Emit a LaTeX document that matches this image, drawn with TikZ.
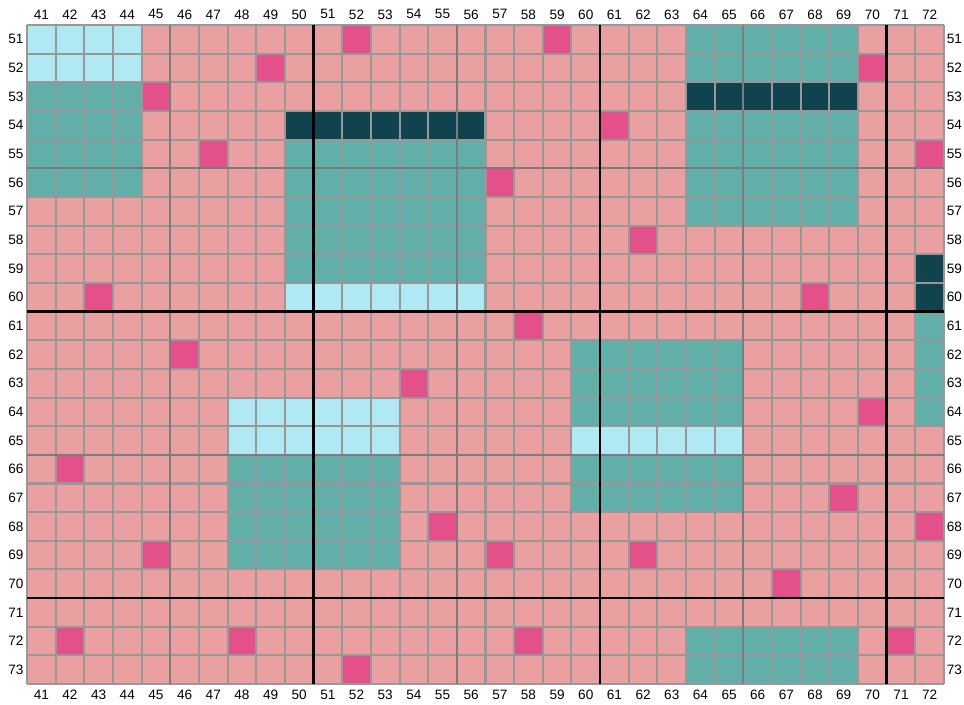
\documentclass[tikz,border=0pt]{standalone}
\usepackage{fontspec}
\setmainfont{Liberation Sans}
\usepackage{xcolor}
\definecolor{CellPink}   {RGB}{234, 160, 160}
\definecolor{CellSky}    {RGB}{176, 232, 244}
\definecolor{CellTeal}   {RGB}{ 98, 174, 168}
\definecolor{CellDeep}   {RGB}{ 16,  67,  78}
\definecolor{CellMagenta}{RGB}{227,  80, 138}
\definecolor{GridGray}   {RGB}{152, 152, 152}
\definecolor{MidGray}    {RGB}{124, 124, 124}
\usepackage{tikz}

% block of cells: first col, last col, first row, last row, colour
\newcommand{\cellblock}[5]{%
  \fill[#5] (#1-41,51-#3) rectangle (#2-40,50-#4);}

\begin{document}
\begin{tikzpicture}[
  axislabel/.style={
    font=\fontsize{13.5}{15}\selectfont,
    inner sep=0pt, text=black},
  gridline/.style={
    draw=GridGray, line width=2pt},
  midline/.style={
    draw=MidGray, line width=2pt},
  bigline/.style={
    draw=black, line width=2.6pt}
]
\useasboundingbox (-0.942,0.872) rectangle (32.698,-23.695);

% base
\cellblock{41}{72}{51}{73}{CellPink}

% teal blocks
\cellblock{41}{44}{53}{56}{CellTeal}
\cellblock{50}{56}{55}{59}{CellTeal}
\cellblock{64}{69}{51}{57}{CellTeal}
\cellblock{72}{72}{61}{64}{CellTeal}
\cellblock{60}{65}{62}{67}{CellTeal}
\cellblock{48}{53}{66}{69}{CellTeal}
\cellblock{64}{69}{72}{73}{CellTeal}

% dark rows
\cellblock{50}{56}{54}{54}{CellDeep}
\cellblock{64}{69}{53}{53}{CellDeep}
\cellblock{72}{72}{59}{60}{CellDeep}

% light blue rows
\cellblock{41}{44}{51}{52}{CellSky}
\cellblock{50}{56}{60}{60}{CellSky}
\cellblock{48}{53}{64}{65}{CellSky}
\cellblock{60}{65}{65}{65}{CellSky}

% single magenta cells (col/row)
\foreach \c/\r in {52/51, 59/51, 49/52, 70/52, 45/53, 61/54,
    47/55, 72/55, 57/56, 62/58, 43/60, 68/60, 58/61, 46/62,
    54/63, 70/64, 42/66, 69/67, 55/68, 72/68, 45/69, 57/69,
    62/69, 67/70, 42/72, 48/72, 58/72, 71/72, 52/73}
  \cellblock{\c}{\c}{\r}{\r}{CellMagenta};

% grid
\foreach \i in {0,...,32}
  \draw[gridline] (\i,0) -- (\i,-23);
\foreach \j in {0,...,23}
  \draw[gridline] (0,-\j) -- (32,-\j);
\foreach \i in {5,15,25}
  \draw[midline] (\i,0) -- (\i,-23);
\foreach \j in {5,15}
  \draw[midline] (0,-\j) -- (32,-\j);
\foreach \i in {10,20,30}
  \draw[bigline] (\i,0) -- (\i,-23);
\foreach \j in {10,20}
  \draw[bigline] (0,-\j) -- (32,-\j);

% axis numbers
\foreach \c in {41,...,72} {
  \node[axislabel] (top-\c) at (\c-40.5,0.37) {\c};
  \node[axislabel] (bot-\c) at (\c-40.5,-23.37) {\c};
}
\foreach \r in {51,...,73} {
  \node[axislabel] (left-\r) at (-0.39,50.5-\r) {\r};
  \node[axislabel] (right-\r) at (32.36,50.5-\r) {\r};
}
\end{tikzpicture}
\end{document}
